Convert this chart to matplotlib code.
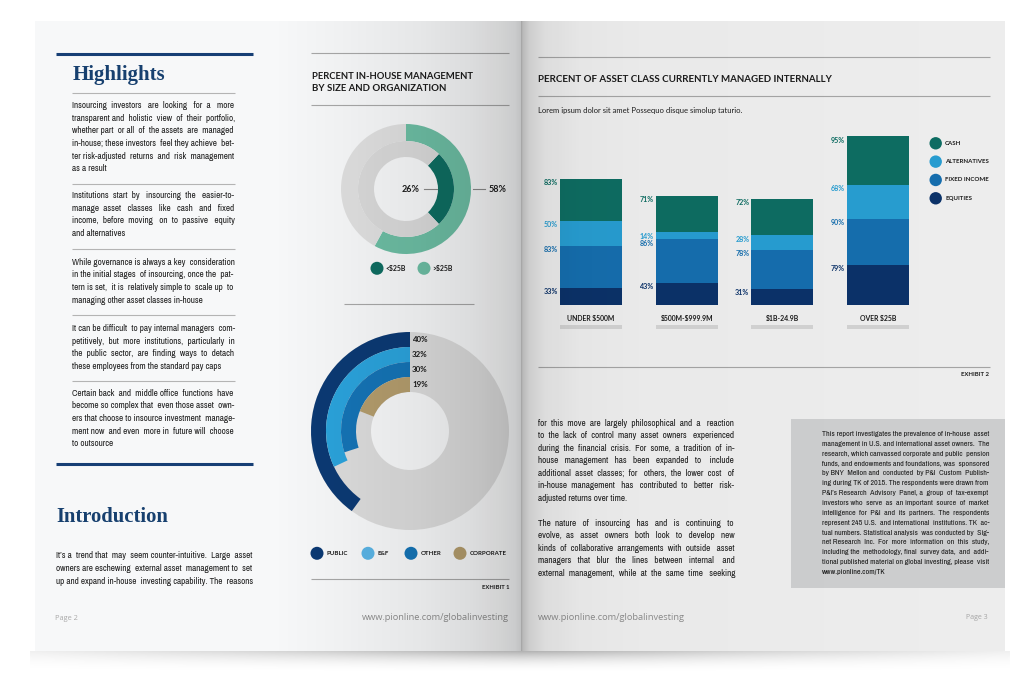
import matplotlib
matplotlib.use("Agg")
import matplotlib.pyplot as plt
import numpy as np
from matplotlib.patches import Rectangle, Circle
from matplotlib.font_manager import FontProperties, fontManager

plt.rcParams['text.parse_math'] = False

W, H = 1035, 686

# ---- chart data
size_groups = ["<$25B", ">$25B"]
size_pct = [26, 58]
org_groups = ["PUBLIC", "E&F", "OTHER", "CORPORATE"]
org_pct = [40, 32, 30, 19]
aum_bands = ["UNDER $500M", "$500M-$999.9M", "$1B-24.9B", "OVER $25B"]
asset_classes = ["CASH", "ALTERNATIVES", "FIXED INCOME", "EQUITIES"]
equities = [33, 43, 31, 79]
fixed_income = [83, 86, 78, 90]
alternatives = [50, 14, 28, 68]
cash = [83, 71, 72, 95]

# ---- page copy
highlights = [
    ["Insourcing investors are looking for a more",
     "transparent and holistic view of their portfolio,",
     "whether part or all of the assets are managed",
     "in-house; these investors feel they achieve bet-",
     "ter risk-adjusted returns and risk management",
     "as a result"],
    ["Institutions start by insourcing the easier-to-",
     "manage asset classes like cash and fixed",
     "income, before moving on to passive equity",
     "and alternatives"],
    ["While governance is always a key consideration",
     "in the initial stages of insourcing, once the pat-",
     "tern is set, it is relatively simple to scale up to",
     "managing other asset classes in-house"],
    ["It can be difficult to pay internal managers com-",
     "petitively, but more institutions, particularly in",
     "the public sector, are finding ways to detach",
     "these employees from the standard pay caps"],
    ["Certain back and middle office functions have",
     "become so complex that even those asset own-",
     "ers that choose to insource investment manage-",
     "ment now and even more in future will choose",
     "to outsource"],
]
intro = ["It\u2019s a trend that may seem counter-intuitive. Large asset",
         "owners are eschewing external asset management to set",
         "up and expand in-house investing capability. The reasons"]
right_p1 = ["for this move are largely philosophical and a reaction",
            "to the lack of control many asset owners experienced",
            "during the financial crisis. For some, a tradition of in-",
            "house management has been expanded to include",
            "additional asset classes; for others, the lower cost of",
            "in-house management has contributed to better risk-",
            "adjusted returns over time."]
right_p2 = ["The nature of insourcing has and is continuing to",
            "evolve, as asset owners both look to develop new",
            "kinds of collaborative arrangements with outside asset",
            "managers that blur the lines between internal and",
            "external management, while at the same time seeking"]
box_text = ["This report investigates the prevalence of in-house asset",
            "management in U.S. and international asset owners. The",
            "research, which canvassed corporate and public pension",
            "funds, and endowments and foundations, was sponsored",
            "by BNY Mellon and conducted by P&I Custom Publish-",
            "ing during TK of 2015. The respondents were drawn from",
            "P&I\u2019s Research Advisory Panel, a group of tax-exempt",
            "investors who serve as an important source of market",
            "intelligence for P&I and its partners. The respondents",
            "represent 245 U.S. and international institutions. TK ac-",
            "tual numbers. Statistical analysis was conducted by Sig-",
            "net Research Inc. For more information on this study,",
            "including the methodology, final survey data, and addi-",
            "tional published material on global investing, please visit"]

# colours
NAVY_RULE = '#173f75'
TEAL_D, TEAL_L = '#0f6e62', '#6dbea4'
ORG_COLS = ['#0c3a74', '#2ba3dc', '#1574b6', '#b49d6d']
ORG_DOTS = ['#0c3a74', '#5ab4e5', '#1574b6', '#b49d6d']
CASH_C, ALT_C, FI_C, EQ_C = '#0e6f64', '#28a0d5', '#1670b1', '#0c336b'
INK = '#1d1d1d'
BODY_INK = '#1e1e1e'
RULE = '#a8a8a8'

# body copy wants a narrow sans; use one if the machine has it
BODY, STRETCH = 'Roboto', 'normal'
named = sorted({f.name for f in fontManager.ttflist
                if ('Narrow' in f.name or 'Condensed' in f.name) and 'Mono' not in f.name
                and 'Serif' not in f.name})
squeezed = sorted({f.name for f in fontManager.ttflist
                   if f.stretch in ('condensed', 'semi-condensed') and 'Mono' not in f.name
                   and 'Serif' not in f.name})
if named:
    BODY = named[0]
elif squeezed:
    BODY, STRETCH = squeezed[0], 'condensed'
HEAD = 'Lato'
SERIF = 'Liberation Serif'

fig = plt.figure(figsize=(W / 100, H / 100), dpi=100)
fig.patch.set_facecolor('white')
rend = fig.canvas.get_renderer()

bg = fig.add_axes([0, 0, 1, 1])
bg.set_xlim(0, W)
bg.set_ylim(H, 0)
bg.axis('off')


def px_axes(x0, y0, x1, y1):
    return fig.add_axes([x0 / W, 1 - y1 / H, (x1 - x0) / W, (y1 - y0) / H])


def text_w(s, family, size, weight='normal', stretch='normal'):
    fp = FontProperties(family=family, size=size, weight=weight, stretch=stretch)
    return rend.get_text_width_height_descent(s, fp, ismath=False)[0]


def fit(s, w, family=HEAD, weight='bold'):
    return 10 * w / text_w(s, family, 10, weight)


def put(x, y, s, w=None, size=6, family=HEAD, weight='bold', ax=None, **kw):
    ax = ax or bg
    if w:
        size = fit(s, w, family, weight)
    return ax.text(x, y, s, fontsize=size, family=family, fontweight=weight, **kw)


def block_size(blocks, width):
    worst = max(text_w(l, BODY, 10, stretch=STRETCH) / width for lines in blocks for l in lines)
    return 10 / worst * 0.995


def padded(words, n):
    # spread n extra spaces evenly over the word gaps
    gaps = len(words) - 1
    pads = [1 + n * (i + 1) // gaps - n * i // gaps for i in range(gaps)]
    return words[0] + ''.join(' ' * p + wd for p, wd in zip(pads, words[1:]))


def para(lines, x0, x1, y0, dy, size, last_left=True, weight='normal', color=BODY_INK):
    # one text per line; justify by padding the word gaps with extra spaces
    meas = lambda s: text_w(s, BODY, size, weight, STRETCH)
    sp = (meas('x' + ' ' * 21 + 'x') - meas('x x')) / 20
    width = x1 - x0
    for k, line in enumerate(lines):
        words = line.split()
        s = line
        if not ((k == len(lines) - 1 and last_left) or len(words) == 1):
            n = max(int((width - meas(line)) / sp), 0)
            while n > 0 and meas(padded(words, n)) > width + 0.3:
                n -= 1
            while meas(padded(words, n + 1)) <= width + 0.3:
                n += 1
            s = padded(words, n)
        bg.text(x0, y0 + k * dy, s, fontsize=size, family=BODY, fontstretch=STRETCH,
                fontweight=weight, color=color, va='center', ha='left')


def hline(x0, x1, y, color=RULE, lw=0.8):
    bg.plot([x0, x1], [y, y], color=color, lw=lw, solid_capstyle='butt')


# ---- pages
bg.add_patch(Rectangle((35, 21), 486, 630, color='#f7f8f9', lw=0))
bg.add_patch(Rectangle((521, 21), 484, 630, color='#f2f2f2', lw=0))

# ---- left page, highlights column
hline(55.7, 253.3, 54.3, NAVY_RULE, 2.2)
hline(55.7, 253.3, 464, NAVY_RULE, 2.2)
put(72.3, 80, "Highlights", w=92.7, family=SERIF, color='#17406f', va='baseline')
body = min(block_size(highlights, 163), block_size([intro], 197.6),
           block_size([right_p1, right_p2], 197.3))
seps = [92.7, 184, 249.3, 315.3, 380.7]
starts = [105.7, 195.7, 262.3, 328.7, 393.3]
for ys, y0, lines in zip(seps, starts, highlights):
    hline(72.3, 235.3, ys, '#b4b4b4', 0.8)
    para(lines, 72.3, 235.3, y0, 12.6, body)

put(56, 522.3, "Introduction", w=112.3, family=SERIF, color='#17406f', va='baseline')
para(intro, 55.7, 253.3, 555.7, 12.7, body, last_left=False)
put(55, 619, "Page 2", w=22.7, family='Open Sans', weight='normal', color='#a9a9a9', va='center')

# ---- left page, exhibit 1
hline(311, 509, 53.3)
put(311.5, 78.7, "PERCENT IN-HOUSE MANAGEMENT", w=162.6, color=INK, va='baseline')
put(311.5, 90.7, "BY SIZE AND ORGANIZATION", w=135.2, color=INK, va='baseline')
hline(311, 509, 105)

cx, cy, R = 406, 189, 65
ax1 = px_axes(cx - R - 2, cy - R - 2, cx + R + 2, cy + R + 2)
ax1.pie([size_pct[1], 100 - size_pct[1]], radius=R, startangle=90, counterclock=False,
        colors=[TEAL_L, '#e0e0e0'], wedgeprops=dict(width=17, lw=0))
hole = R - 17 - 16
ax1.pie([size_pct[0], 100 - size_pct[0]], radius=R - 17, startangle=360 * size_pct[0] / 200,
        counterclock=False, colors=[TEAL_D, '#dadada'], wedgeprops=dict(width=16, lw=0))
ax1.set_xlim(-R - 2, R + 2)
ax1.set_ylim(-R - 2, R + 2)
lsize = fit("26%", 18)
ax1.plot([hole - 14, hole - 1], [0, 0], color='#8a8a8a', lw=0.8, clip_on=False)
ax1.plot([R + 2, R + 14], [0, 0], color='#8a8a8a', lw=0.8, clip_on=False)
ax1.text(hole - 19, 0, f"{size_pct[0]}%", ha='right', va='center', fontsize=lsize,
         family=HEAD, fontweight='bold', color=INK, clip_on=False)
ax1.text(R + 18, 0, f"{size_pct[1]}%", ha='left', va='center', fontsize=lsize,
         family=HEAD, fontweight='bold', color=INK, clip_on=False)

gsize = fit("<$25B", 20.3)
for xc, name, col in zip([377, 424], size_groups, [TEAL_D, TEAL_L]):
    bg.add_patch(Circle((xc, 268.3), 6.5, color=col, lw=0))
    put(xc + 8.5, 268.3, name, size=gsize, color=INK, va='center')

hline(344, 473.5, 303.7)

cx2, cy2, R2 = 410, 431, 99
ax2 = px_axes(cx2 - R2 - 2, cy2 - R2 - 2, cx2 + R2 + 2, cy2 + R2 + 2)
ring = 15
ax2.pie([1], radius=R2, colors=['#dcdcdc'], wedgeprops=dict(width=4 * ring, lw=0))
osize = fit("40%", 15.7)
for k, (v, col) in enumerate(zip(org_pct, ORG_COLS)):
    r = R2 - k * ring
    ax2.pie([v, 100 - v], radius=r, startangle=90, counterclock=True,
            colors=[col, 'none'], wedgeprops=dict(width=ring, lw=0))
    ax2.text(2, r - ring / 2, f"{v}%", ha='left', va='center', fontsize=osize,
             family=HEAD, fontweight='bold', color=INK)
ax2.set_xlim(-R2 - 2, R2 + 2)
ax2.set_ylim(-R2 - 2, R2 + 2)

lgsize = fit("CORPORATE", 36.7)
for xc, name, col in zip([317, 368, 411, 460], org_groups, ORG_DOTS):
    bg.add_patch(Circle((xc, 553.3), 6.5, color=col, lw=0))
    put(xc + 9.5, 553.3, name, size=lgsize, color=INK, va='center')

hline(311, 509, 579.3)
put(509.7, 589.3, "EXHIBIT 1", w=27.7, color=INK, ha='right', va='baseline')
put(508.5, 618, "www.pionline.com/globalinvesting", w=147, family='Open Sans',
    weight='normal', color='#8e8e8e', ha='right', va='center')

# ---- right page, exhibit 2
hline(538, 990, 56.7)
put(538, 82.3, "PERCENT OF ASSET CLASS CURRENTLY MANAGED INTERNALLY", w=294, color=INK, va='baseline')
hline(538, 990, 96.3)
put(538, 113.3, "Lorem ipsum dolor sit amet Possequo disque simolup taturio.", w=203,
    weight='normal', color=INK, va='baseline')

px_per_pct = 0.508
axb = px_axes(543.17, 120, 925.83, 305)
axb.set_xlim(-0.5, 3.5)
axb.set_ylim(0, 185 / px_per_pct)
axb.axis('off')
xb = np.arange(len(aum_bands))
bw = 62 / 95.67
vsize = fit("83%", 14)
csize = fit("UNDER $500M", 48.6)
bottom = np.zeros(len(aum_bands))
for vals, col in zip([equities, fixed_income, alternatives, cash], [EQ_C, FI_C, ALT_C, CASH_C]):
    axb.bar(xb, vals, bw, bottom=bottom, color=col, lw=0)
    tops = bottom + np.array(vals)
    for xi, t, v in zip(xb, tops, vals):
        axb.annotate(f"{v}%", (xi - bw / 2, t), xytext=(-2, -3.7), textcoords='offset pixels',
                     ha='right', va='center', color=col, fontsize=vsize, family=HEAD,
                     fontweight='bold')
    bottom = tops
axb.bar(xb, 4 / px_per_pct, bw, bottom=-24 / px_per_pct, color='#d6d6d6', lw=0, clip_on=False)
for xi, band in zip(xb, aum_bands):
    axb.annotate(band, (xi, 0), xytext=(0, -16), textcoords='offset pixels', ha='center',
                 va='baseline', fontsize=csize, family=HEAD, fontweight='bold', color=INK,
                 annotation_clip=False)

asize = fit("ALTERNATIVES", 44.3)
for i, (name, col) in enumerate(zip(asset_classes, [CASH_C, ALT_C, FI_C, EQ_C])):
    y = 143.3 + 18.33 * i
    bg.add_patch(Circle((935.7, y), 6.2, color=col, lw=0))
    put(945, y, name, size=asize, color=INK, va='center')

hline(538, 990, 367.3)
put(989.3, 376, "EXHIBIT 2", w=28.3, color=INK, ha='right', va='baseline')

# ---- right page copy
para(right_p1, 537.7, 735, 423.3, 12.5, body)
para(right_p2, 537.7, 735, 523.3, 12.5, body, last_left=False)

bg.add_patch(Rectangle((791, 419.3), 1005 - 791, 168.4, color='#d1d2d3', lw=0))
bsize = block_size([box_text], 167.3)
para(box_text, 821.7, 989, 434, 9.85, bsize, last_left=False, color='#1a1a1a')
bg.text(821.7, 434 + 14 * 9.85, "www.pionline.com/TK", fontsize=bsize, family=BODY,
        fontstretch=STRETCH, fontweight='bold', color='#111111', va='center')

put(537.7, 617, "www.pionline.com/globalinvesting", w=147, family='Open Sans',
    weight='normal', color='#8e8e8e', va='center')
put(987.7, 617.7, "Page 3", w=21.7, family='Open Sans', weight='normal', color='#a9a9a9',
    ha='right', va='center')

# ---- photo shading over the spread
xs = np.arange(W) + 0.5
shade = np.zeros(W)
lm = (xs >= 35) & (xs < 521)
shade[lm] = np.interp(xs[lm], [35, 270, 340, 420, 470, 500, 515, 521],
                      [0.0, 0.0, 0.03, 0.07, 0.11, 0.15, 0.18, 0.22])
rm = (xs >= 521) & (xs < 1005)
shade[rm] = np.interp(xs[rm], [521, 523, 530, 545, 580, 640, 1005],
                      [0.34, 0.23, 0.15, 0.09, 0.05, 0.035, 0.02])
rgba = np.zeros((H, W, 4))
rgba[21:651, :, 3] = shade[None, :]
sx = np.zeros(W)
pm = (xs >= 30) & (xs < 1010)
sx[pm] = np.interp(xs[pm], [30, 300, 521, 740, 1010], [0.06, 0.17, 0.3, 0.17, 0.06])
ys = np.arange(651, 674)
fall = ((674 - ys) / 23.0) ** 2.2
rgba[651:674, :, 3] = fall[:, None] * sx[None, :]

ov = fig.add_axes([0, 0, 1, 1])
ov.imshow(rgba, extent=(0, W, H, 0), aspect='auto', interpolation='bilinear')
ov.set_xlim(0, W)
ov.set_ylim(H, 0)
ov.axis('off')

fig.savefig("out.png", dpi=100)
